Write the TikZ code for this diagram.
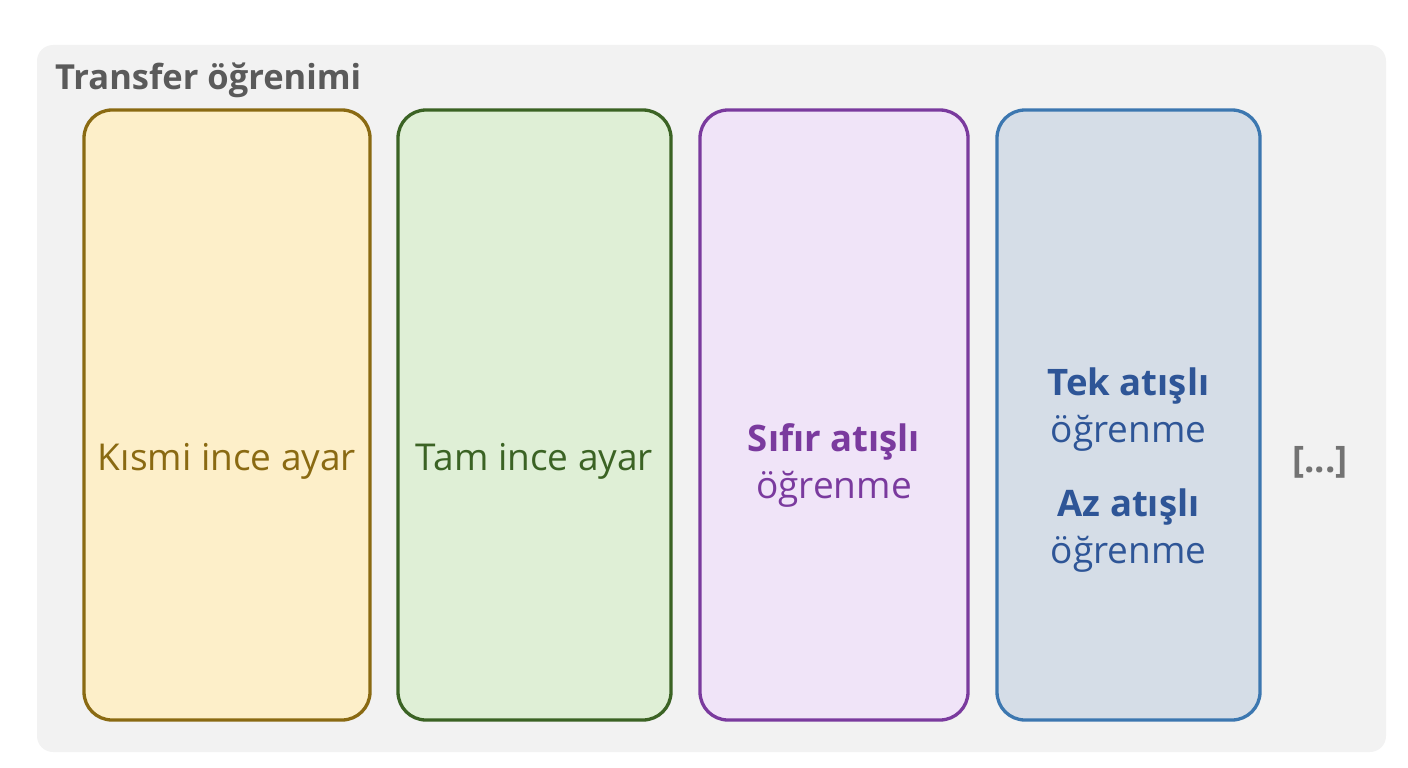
\documentclass[tikz,border=0pt]{standalone}
\usepackage{fontspec}
\setmainfont{Open Sans}
\usetikzlibrary{positioning}

\definecolor{panelbg}{HTML}{F2F2F2}
\definecolor{titlegray}{HTML}{5A5A5A}
\definecolor{partfill}{HTML}{FDEFC9}
\definecolor{partline}{HTML}{8A6A12}
\definecolor{fullfill}{HTML}{DFEFD6}
\definecolor{fullline}{HTML}{3B6324}
\definecolor{zerofill}{HTML}{F0E4F8}
\definecolor{zeroline}{HTML}{7A3A9E}
\definecolor{fewfill}{HTML}{D5DDE7}
\definecolor{fewline}{HTML}{3C77B0}
\definecolor{fewtext}{HTML}{2E5597}

\begin{document}
\begin{tikzpicture}[x=1pt,y=-1pt]
    \useasboundingbox (0,0) rectangle (1408,768);
    \fill[panelbg, rounded corners=16pt] (37,45) rectangle (1386,752);

    \node[anchor=base west, inner sep=0pt, text=titlegray,
          font=\bfseries\fontsize{34.5}{40}\selectfont] (title) at (55,89) {Transfer öğrenimi};

    \tikzset{box/.style={draw,line width=3.3pt,rounded corners=28pt,minimum height=610pt},
             lbl/.style={anchor=base,inner sep=0pt,font=\fontsize{37}{44}\selectfont},
             blbl/.style={lbl,font=\bfseries\fontsize{36.5}{44}\selectfont}}
    \node[box, fill=partfill, draw=partline, minimum width=286pt] (partial) at (227,415) {};
    \node[box, fill=fullfill, draw=fullline, minimum width=273pt] (full)    at (534.5,415) {};
    \node[box, fill=zerofill, draw=zeroline, minimum width=268pt] (zero)    at (834,415) {};
    \node[box, fill=fewfill,  draw=fewline,  minimum width=263pt] (few)     at (1128.5,415) {};

    \node[lbl, text=partline] (partialtxt) at (227,470) {Kısmi ince ayar};
    \node[lbl, text=fullline] (fulltxt)    at (534.5,470) {Tam ince ayar};

    \node[blbl, text=zeroline] (zeroa) at (834,451) {Sıfır atışlı};
    \node[lbl,  text=zeroline] (zerob) at (834,498) {öğrenme};

    \node[blbl, text=fewtext] (onea) at (1128.5,395) {Tek atışlı};
    \node[lbl,  text=fewtext] (oneb) at (1128.5,442) {öğrenme};
    \node[blbl, text=fewtext] (fewa) at (1128.5,516) {Az atışlı};
    \node[lbl,  text=fewtext] (fewb) at (1128.5,563) {öğrenme};

    \node[blbl, text=titlegray!85] (more) at (1320,472) {[...]};
\end{tikzpicture}
\end{document}
